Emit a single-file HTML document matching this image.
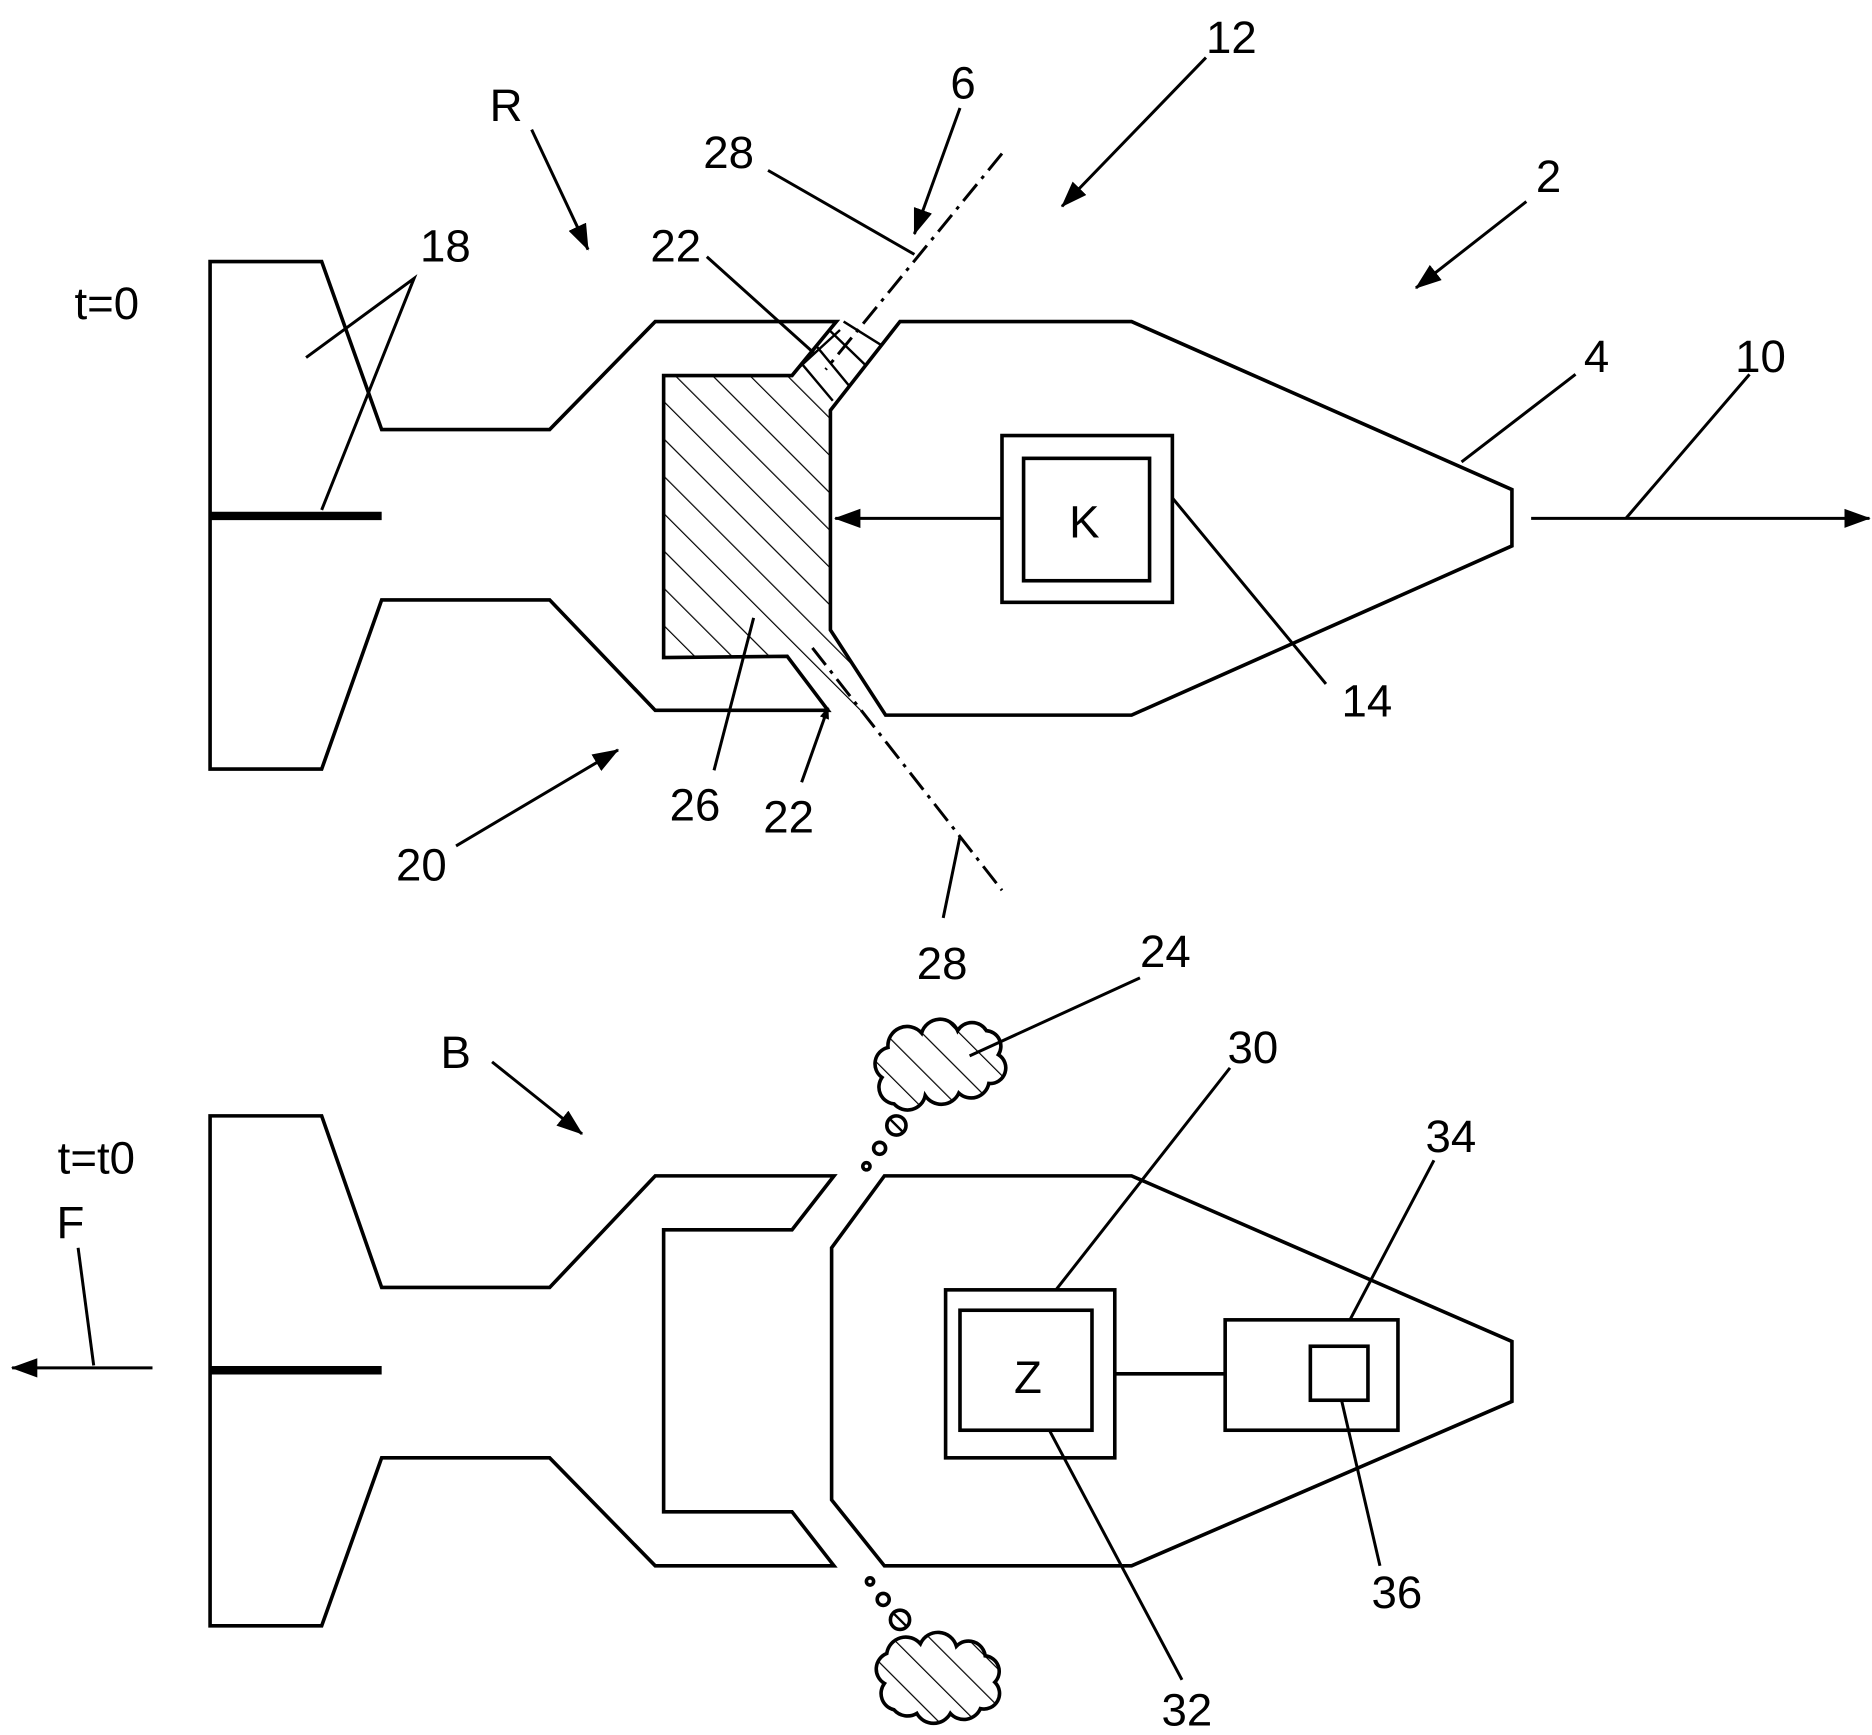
<!DOCTYPE html>
<html><head><meta charset="utf-8"><style>html,body{margin:0;padding:0;background:#fff}svg{display:block}text{font-family:"Liberation Sans",sans-serif;font-size:38px;fill:#000}</style></head>
<body>
<svg width="1872" height="1735" viewBox="0 0 1560 1446" xmlns="http://www.w3.org/2000/svg">
<defs>
<pattern id="h" width="22" height="22" patternUnits="userSpaceOnUse" patternTransform="rotate(-45)"><line x1="0" y1="0" x2="0" y2="22" stroke="#000" stroke-width="2"/></pattern>
<marker id="a" markerWidth="10" markerHeight="8" refX="9" refY="4" orient="auto" markerUnits="userSpaceOnUse" viewBox="0 0 10 8"><path d="M0,0 L10,4 L0,8 Z" fill="#000"/></marker>
<marker id="A" markerWidth="22" markerHeight="16" refX="21" refY="8" orient="auto" markerUnits="userSpaceOnUse"><path d="M0,0 L22,8 L0,16 Z" fill="#000"/></marker>
</defs>
<g fill="none" stroke="#000" stroke-width="3" stroke-linejoin="miter">
<!-- top rocket -->
<polygon points="553,313 660,313 692,342 692,525 738,596 690,592 656,547 553,548" fill="url(#h)" stroke="none"/>
<g stroke-width="2">
<line x1="668" y1="303" x2="694" y2="334"/>
<line x1="680" y1="288" x2="708" y2="322"/>
<line x1="691" y1="275" x2="722" y2="305"/>
<line x1="703" y1="268" x2="735" y2="288"/>
<line x1="664" y1="308" x2="700" y2="275"/>
</g>
<polygon points="175,218 268,218 318,358 458,358 546,268 697,268 660,313 553,313 553,548 656,547 690,592 546,592 458,500 318,500 268,641 175,641"/>
<polygon points="750,268 943,268 1260,408 1260,455 943,596 738,596 692,525 692,342"/>
<line x1="175" y1="430" x2="318" y2="430" stroke-width="7"/>
<rect x="835" y="363" width="142" height="139"/>
<rect x="853" y="382" width="105" height="102"/>
<line x1="835" y1="432" x2="696" y2="432" stroke-width="2.5" marker-end="url(#A)"/>
<line x1="1276" y1="432" x2="1558" y2="432" stroke-width="2.5" marker-end="url(#A)"/>
<line x1="835" y1="128" x2="688" y2="308" stroke-width="2.5" stroke-dasharray="18,6,3,6"/>
<line x1="677" y1="540" x2="835" y2="742" stroke-width="2.5" stroke-dasharray="18,6,3,6"/>
<g stroke-width="2.5">
<line x1="1005" y1="48" x2="885" y2="172" marker-end="url(#A)"/>
<line x1="800" y1="90" x2="762" y2="195" marker-end="url(#A)"/>
<line x1="640" y1="142" x2="762" y2="212"/>
<line x1="443" y1="108" x2="490" y2="208" marker-end="url(#A)"/>
<line x1="1272" y1="168" x2="1180" y2="240" marker-end="url(#A)"/>
<line x1="589" y1="214" x2="678" y2="294"/>
<polyline points="255,298 345,232 268,425"/>
<line x1="1313" y1="312" x2="1218" y2="385"/>
<line x1="1458" y1="312" x2="1355" y2="432"/>
<line x1="1105" y1="570" x2="977" y2="415"/>
<line x1="595" y1="642" x2="628" y2="515"/>
<line x1="668" y1="652" x2="690" y2="590" marker-end="url(#a)"/>
<line x1="380" y1="705" x2="515" y2="625" marker-end="url(#A)"/>
<line x1="786" y1="765" x2="800" y2="697"/>
</g>
<!-- bottom rocket -->
<polygon points="175,930 268,930 318,1073 458,1073 546,980 695,980 660,1025 553,1025 553,1260 660,1260 695,1305 546,1305 458,1215 318,1215 268,1355 175,1355"/>
<polygon points="737,980 943,980 1260,1118 1260,1168 943,1305 737,1305 693,1250 693,1040"/>
<line x1="175" y1="1142" x2="318" y2="1142" stroke-width="7"/>
<rect x="788" y="1075" width="141" height="140"/>
<rect x="800" y="1092" width="110" height="100"/>
<line x1="929" y1="1145" x2="1021" y2="1145"/>
<rect x="1021" y="1100" width="144" height="92"/>
<rect x="1092" y="1122" width="48" height="45"/>
<g stroke-width="2.5">
<line x1="1025" y1="890" x2="880" y2="1075"/>
<line x1="1195" y1="967" x2="1125" y2="1100"/>
<line x1="1150" y1="1305" x2="1118" y2="1167"/>
<line x1="985" y1="1400" x2="875" y2="1193"/>
<line x1="950" y1="815" x2="808" y2="880"/>
<line x1="410" y1="885" x2="485" y2="945" marker-end="url(#A)"/>
<line x1="65" y1="1040" x2="78" y2="1138"/>
<line x1="127" y1="1140" x2="10" y2="1140" marker-end="url(#A)"/>
</g>
<!-- clouds -->
<g fill="url(#h)">
<path d="M745,920 a14,14 0 0 1 -10,-22 a14,14 0 0 1 5,-25 a16,16 0 0 1 28,-12 a16,16 0 0 1 30,-2 a14,14 0 0 1 24,0 a13,13 0 0 1 10,20 a13,13 0 0 1 -8,24 a15,15 0 0 1 -25,8 a16,16 0 0 1 -28,2 a15,15 0 0 1 -26,7 Z"/>
<path d="M745,1425 a14,14 0 0 1 -8,-22 a14,14 0 0 1 2,-25 a16,16 0 0 1 28,-8 a16,16 0 0 1 30,2 a14,14 0 0 1 24,8 a13,13 0 0 1 8,22 a13,13 0 0 1 -12,22 a15,15 0 0 1 -25,4 a16,16 0 0 1 -28,0 a15,15 0 0 1 -19,-3 Z"/>
</g>
<circle cx="722" cy="972" r="3"/><circle cx="733" cy="957" r="5"/><circle cx="747" cy="938" r="8"/>
<line x1="742" y1="933" x2="752" y2="943" stroke-width="2"/>
<circle cx="725" cy="1318" r="3"/><circle cx="736" cy="1333" r="5"/><circle cx="750" cy="1350" r="8"/>
<line x1="745" y1="1345" x2="755" y2="1355" stroke-width="2"/>
</g>
<text x="1005" y="44">12</text>
<text x="792" y="82">6</text>
<text x="586" y="140">28</text>
<text x="408" y="101">R</text>
<text x="1280" y="160">2</text>
<text x="542" y="218">22</text>
<text x="350" y="218">18</text>
<text x="62" y="266">t=0</text>
<text x="1320" y="310">4</text>
<text x="1446" y="310">10</text>
<text x="891" y="448">K</text>
<text x="1118" y="597">14</text>
<text x="558" y="684">26</text>
<text x="636" y="694">22</text>
<text x="330" y="734">20</text>
<text x="764" y="816">28</text>
<text x="950" y="806">24</text>
<text x="1023" y="886">30</text>
<text x="367" y="890">B</text>
<text x="1188" y="960">34</text>
<text x="48" y="978">t=t0</text>
<text x="47" y="1032">F</text>
<text x="845" y="1161">Z</text>
<text x="1143" y="1340">36</text>
<text x="968" y="1438">32</text>
</svg>
</body></html>
